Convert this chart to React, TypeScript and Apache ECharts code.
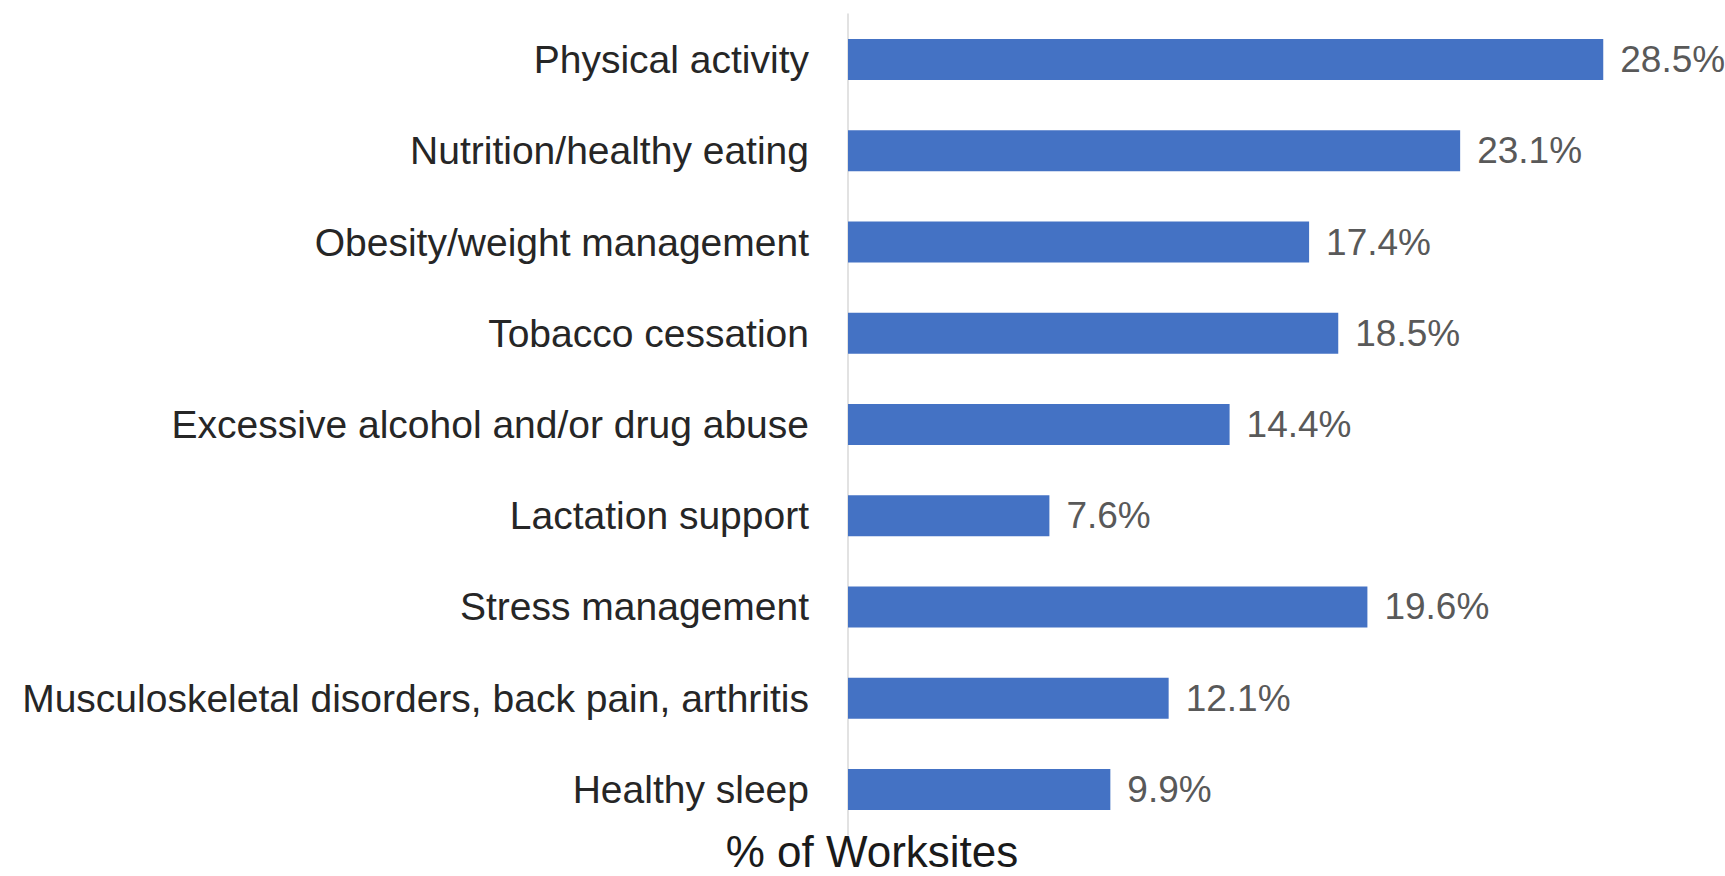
import React, { useEffect, useRef } from "react";
import * as echarts from "echarts";

const categories = [
  "Physical activity",
  "Nutrition/healthy eating",
  "Obesity/weight management",
  "Tobacco cessation",
  "Excessive alcohol and/or drug abuse",
  "Lactation support",
  "Stress management",
  "Musculoskeletal disorders, back pain, arthritis",
  "Healthy sleep",
];
const values = [28.5, 23.1, 17.4, 18.5, 14.4, 7.6, 19.6, 12.1, 9.9];
const axisTitle = "% of Worksites";

export default function App() {
  const ref = useRef<HTMLDivElement>(null);
  useEffect(() => {
    if (!ref.current) return;
    const chart = echarts.init(ref.current, null, { renderer: "svg" });
    chart.setOption({
      animation: false,
      backgroundColor: "#ffffff",
      grid: { left: 848, right: 82, top: 14, bottom: 41, containLabel: false },
      xAxis: {
        type: "value",
        min: 0,
        max: 30,
        show: false,
      },
      yAxis: {
        type: "category",
        data: categories,
        inverse: true,
        axisLine: { show: true, lineStyle: { color: "#d9d9d9", width: 1.5 } },
        axisTick: { show: false },
        axisLabel: {
          margin: 39,
          fontFamily: "Liberation Sans",
          fontSize: 39,
          color: "#262626",
        },
      },
      series: [
        {
          type: "bar",
          data: values,
          barWidth: 41,
          itemStyle: { color: "#4472C4" },
          label: {
            show: true,
            position: "right",
            distance: 17,
            fontFamily: "Liberation Sans",
            fontSize: 37,
            color: "#595959",
            formatter: (p: any) => p.value.toFixed(1) + "%",
          },
        },
      ],
      graphic: [
        {
          type: "text",
          x: 872,
          y: 851,
          style: {
            text: axisTitle,
            fontFamily: "Liberation Sans",
            fontSize: 44,
            fill: "#1a1a1a",
            textAlign: "center",
            textVerticalAlign: "middle",
          },
        },
      ],
    });
    return () => chart.dispose();
  }, []);
  return (
    <div
      ref={ref}
      style={{ position: "absolute", left: 0, top: 0, width: 1725, height: 876 }}
    />
  );
}
